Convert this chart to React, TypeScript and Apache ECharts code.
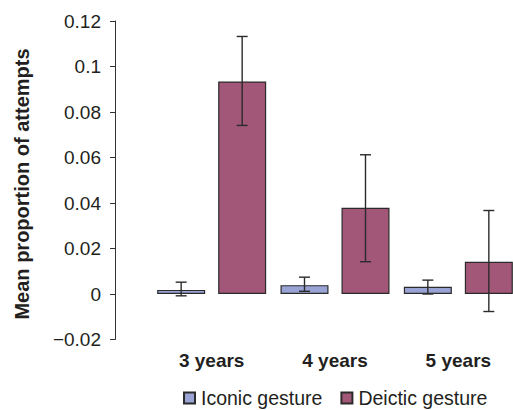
import React, { useEffect, useRef } from "react";
import * as echarts from "echarts";

const categories = ["3 years", "4 years", "5 years"];
const iconicMean = [0.0018, 0.0039, 0.0032];
const iconicLow = [-0.0008, 0.0012, 0.0];
const iconicHigh = [0.0052, 0.0074, 0.0061];
const deicticMean = [0.0934, 0.0379, 0.0142];
const deicticLow = [0.0741, 0.0142, -0.0077];
const deicticHigh = [0.1132, 0.0612, 0.0367];
const seriesNames = ["Iconic gesture", "Deictic gesture"];
const yAxisTitle = "Mean proportion of attempts";

const FONT = "'Liberation Sans', Arial, Helvetica, sans-serif";
const TEXT = "#231f20";
const BAR_W = 48;
const BAR_GAP = 13;

function errorSeries(low: number[], high: number[], offset: number) {
  return {
    type: "custom",
    silent: true,
    z: 5,
    clip: false,
    encode: { x: 0, y: [1, 2] },
    data: low.map((lo, i) => [i, lo, high[i]]),
    renderItem: (params: any, api: any) => {
      const idx = api.value(0);
      const x = api.coord([idx, 0])[0] + offset;
      const yLo = api.coord([idx, api.value(1)])[1];
      const yHi = api.coord([idx, api.value(2)])[1];
      const cap = 5.5;
      const style = { stroke: "#2b2b2b", lineWidth: 1.4 };
      return {
        type: "group",
        children: [
          { type: "line", shape: { x1: x, y1: yLo, x2: x, y2: yHi }, style },
          { type: "line", shape: { x1: x - cap, y1: yHi, x2: x + cap, y2: yHi }, style },
          { type: "line", shape: { x1: x - cap, y1: yLo, x2: x + cap, y2: yLo }, style },
        ],
      };
    },
  };
}

export default function App() {
  const ref = useRef<HTMLDivElement>(null);
  useEffect(() => {
    if (!ref.current) return;
    document.body.style.margin = "0";
    const chart = echarts.init(ref.current, undefined, { renderer: "svg" });
    const off = BAR_W / 2 + BAR_GAP / 2;
    chart.setOption({
      animation: false,
      backgroundColor: "#ffffff",
      textStyle: { fontFamily: FONT },
      grid: { left: 150, right: 0, top: 21, bottom: 70.5, containLabel: false },
      legend: {
        data: seriesNames,
        left: 183,
        top: 388,
        padding: 0,
        itemWidth: 11,
        itemHeight: 11,
        itemGap: 18,
        icon: "rect",
        textStyle: { fontSize: 19.5, color: TEXT, fontFamily: FONT, padding: [0, 0, 0, 1] },
      },
      xAxis: {
        type: "category",
        data: categories,
        axisLine: { show: false, onZero: false },
        axisTick: { show: false },
        axisLabel: { fontSize: 19, fontWeight: "bold", color: TEXT, margin: 11, fontFamily: FONT },
        splitLine: { show: false },
      },
      yAxis: {
        type: "value",
        min: -0.02,
        max: 0.12,
        interval: 0.02,
        offset: 35,
        axisLine: { show: true, lineStyle: { color: "#333", width: 1 } },
        axisTick: { show: true, inside: false, length: 5, lineStyle: { color: "#333" } },
        splitLine: { show: false },
        axisLabel: {
          fontSize: 19,
          color: TEXT,
          margin: 14,
          fontFamily: FONT,
          formatter: (v: number) => {
            const r = Number(v.toFixed(2));
            return r < 0 ? "\u2212" + String(Math.abs(r)) : String(r);
          },
        },
      },
      graphic: [
        {
          type: "text",
          x: 22,
          y: 184,
          rotation: Math.PI / 2,
          style: {
            text: yAxisTitle,
            font: `bold 20px ${FONT}`,
            fill: TEXT,
            textAlign: "center",
            textVerticalAlign: "middle",
          },
        },
      ],
      series: [
        {
          name: seriesNames[0],
          type: "bar",
          data: iconicMean,
          barWidth: BAR_W,
          barGap: `${(BAR_GAP / BAR_W) * 100}%`,
          itemStyle: { color: "#99a3d4", borderColor: "#2b2b2b", borderWidth: 1.2 },
        },
        {
          name: seriesNames[1],
          type: "bar",
          data: deicticMean,
          barWidth: BAR_W,
          barGap: `${(BAR_GAP / BAR_W) * 100}%`,
          itemStyle: { color: "#a25678", borderColor: "#2b2b2b", borderWidth: 1.2 },
        },
        errorSeries(iconicLow, iconicHigh, -off),
        errorSeries(deicticLow, deicticHigh, off),
      ],
    });
    return () => chart.dispose();
  }, []);
  return (
    <div style={{ width: 513, height: 410, overflow: "hidden", position: "relative" }}>
      <div ref={ref} style={{ width: 520, height: 410 }} />
    </div>
  );
}
